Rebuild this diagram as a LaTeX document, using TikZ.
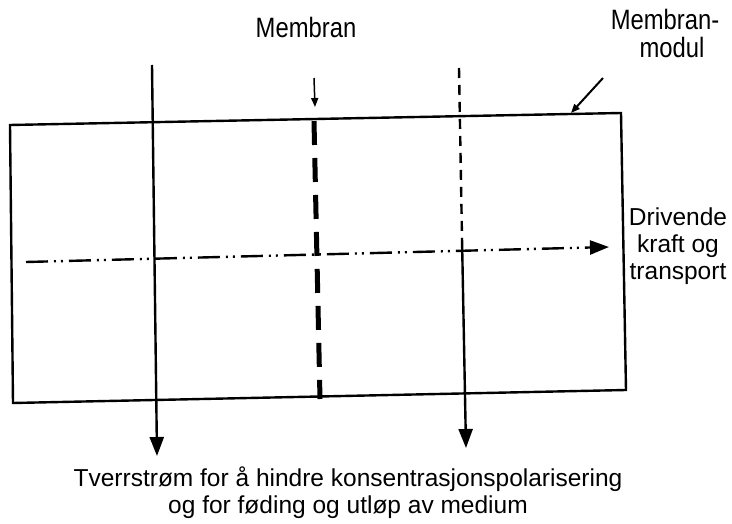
\documentclass[tikz,border=0pt]{standalone}
\usepackage{fontspec}
\setmainfont{Liberation Sans}
\newfontfamily\narrowsans[FakeStretch=0.85]{Liberation Sans}
\usetikzlibrary{arrows.meta}
\begin{document}
\begin{tikzpicture}[x=1pt,y=-1pt,
  lbl/.style={font=\narrowsans\fontsize{28}{28}\selectfont, inner sep=0pt, align=center},
  biglbl/.style={font=\fontsize{24.5}{27}\selectfont, inner sep=0pt, align=center},
  frame/.style={line width=2.4pt},
  flowline/.style={line width=2.4pt, -{Triangle[length=19pt,width=14pt]}},
  smallarrow/.style={line width=1.5pt, -{Triangle[length=9pt,width=7pt]}},
  membr/.style={line width=5pt, dash pattern=on 24pt off 13pt},
  dashln/.style={line width=2.4pt, dash pattern=on 10pt off 7pt},
  dashdot/.style={line width=2.4pt, dash pattern=on 22pt off 6pt on 2pt off 5pt on 2pt off 6pt, -{Triangle[length=19pt,width=14pt]}}]
\useasboundingbox (0,0) rectangle (732,524);
% module box
\coordinate (A) at (10,125);
\coordinate (B) at (621,113);
\coordinate (C) at (626,390);
\coordinate (D) at (13,403);
\draw[frame] (A) -- (B) -- (C) -- (D) -- cycle;
% membrane
\coordinate (m1) at (314,121);
\coordinate (m2) at (320,399);
\draw[membr] (m1) -- (m2);
% left cross flow
\coordinate (l1) at (152,65);
\coordinate (l2) at (157,456);
\draw[flowline] (l1) -- (l2);
% right cross flow
\coordinate (r1) at (459,68);
\coordinate (r0) at (462,238);
\coordinate (r2) at (466,448);
\draw[dashln] (r1) -- (r0);
\draw[flowline] (r0) -- (r2);
% driving force
\coordinate (d1) at (26,262);
\coordinate (d2) at (609,247);
\draw[dashdot] (d1) -- (d2);
% labels
\node[lbl] (membran) at (306,27) {Membran};
\coordinate (ma) at (314,78);
\coordinate (mb) at (315,107);
\draw[smallarrow] (ma) -- (mb);
\node[lbl, align=center] (modul) at (665,33) {Membran-\\\hspace*{14pt}modul};
\coordinate (ua) at (603,78);
\coordinate (ub) at (571,113);
\draw[smallarrow, line width=2pt] (ua) -- (ub);
\node[biglbl] (drive) at (678,246) {Drivende\\kraft og\\transport};
\node[biglbl] (bottom) at (348,493) {Tverrstrøm for å hindre konsentrasjonspolarisering\\og for føding og utløp av medium};
\end{tikzpicture}
\end{document}
